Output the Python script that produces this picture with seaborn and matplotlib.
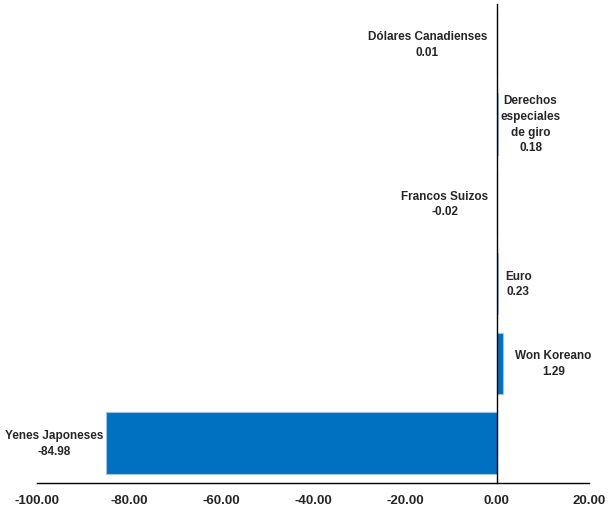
#!/usr/bin/env python3
## horizontal bars of currency variations

import matplotlib
matplotlib.use("Agg")
import matplotlib.pyplot as plt
import seaborn as sb
import pandas as pd
from matplotlib.ticker import FormatStrFormatter

monedas = ["Dólares Canadienses", "Derechos\nespeciales\nde giro", "Francos Suizos",
           "Euro", "Won Koreano", "Yenes Japoneses"]
valores = [0.01, 0.18, -0.02, 0.23, 1.29, -84.98]
lado = ["left", "right", "left", "right", "right", "left"]  # where the label sits
desplaz = [7, 2, 6, 5, 9, 2]  # label gap in points

sb.set_style("white")
plt.rcParams["font.family"] = ["Liberation Sans", "DejaVu Sans"]
plt.rcParams["font.weight"] = "bold"

df = pd.DataFrame({"moneda": monedas, "valor": valores})

fig = plt.figure(figsize=(6.16, 5.10), dpi=100)
ax = fig.add_axes([0.060, 0.051, 0.896, 0.939])
sb.barplot(data=df, x="valor", y="moneda", orient="h", color="#0070C0",
           saturation=1, width=0.77, edgecolor="#9DC3E6", linewidth=0.8, ax=ax)

ax.set_xlim(-100, 20)
ax.set_xticks(range(-100, 21, 20))
ax.xaxis.set_major_formatter(FormatStrFormatter("%.2f"))
ax.tick_params(axis="x", direction="out", length=5, width=1, labelsize=9.5, pad=3)
for t in ax.get_xticklabels():
    t.set_fontweight("bold")
ax.set_yticks([])
ax.set_xlabel("")
ax.set_ylabel("")

for s in ["top", "right"]:
    ax.spines[s].set_visible(False)
ax.spines["left"].set_position(("data", 0))
ax.spines["left"].set_color("black")
ax.spines["bottom"].set_color("black")
ax.spines["left"].set_linewidth(1)
ax.spines["bottom"].set_linewidth(1)

for i, (m, v, l, d) in enumerate(zip(monedas, valores, lado, desplaz)):
    txt = m + "\n" + f"{v:.2f}"
    if l == "right":
        ax.annotate(txt, xy=(max(v, 0), i), xytext=(d, 0), textcoords="offset points",
                    ha="left", va="center", multialignment="center",
                    fontsize=8.5, fontweight="bold", linespacing=1.4)
    else:
        ax.annotate(txt, xy=(min(v, 0), i), xytext=(-d, 0), textcoords="offset points",
                    ha="right", va="center", multialignment="center",
                    fontsize=8.5, fontweight="bold", linespacing=1.4)

fig.savefig("out.png", dpi=100)
plt.close(fig)
